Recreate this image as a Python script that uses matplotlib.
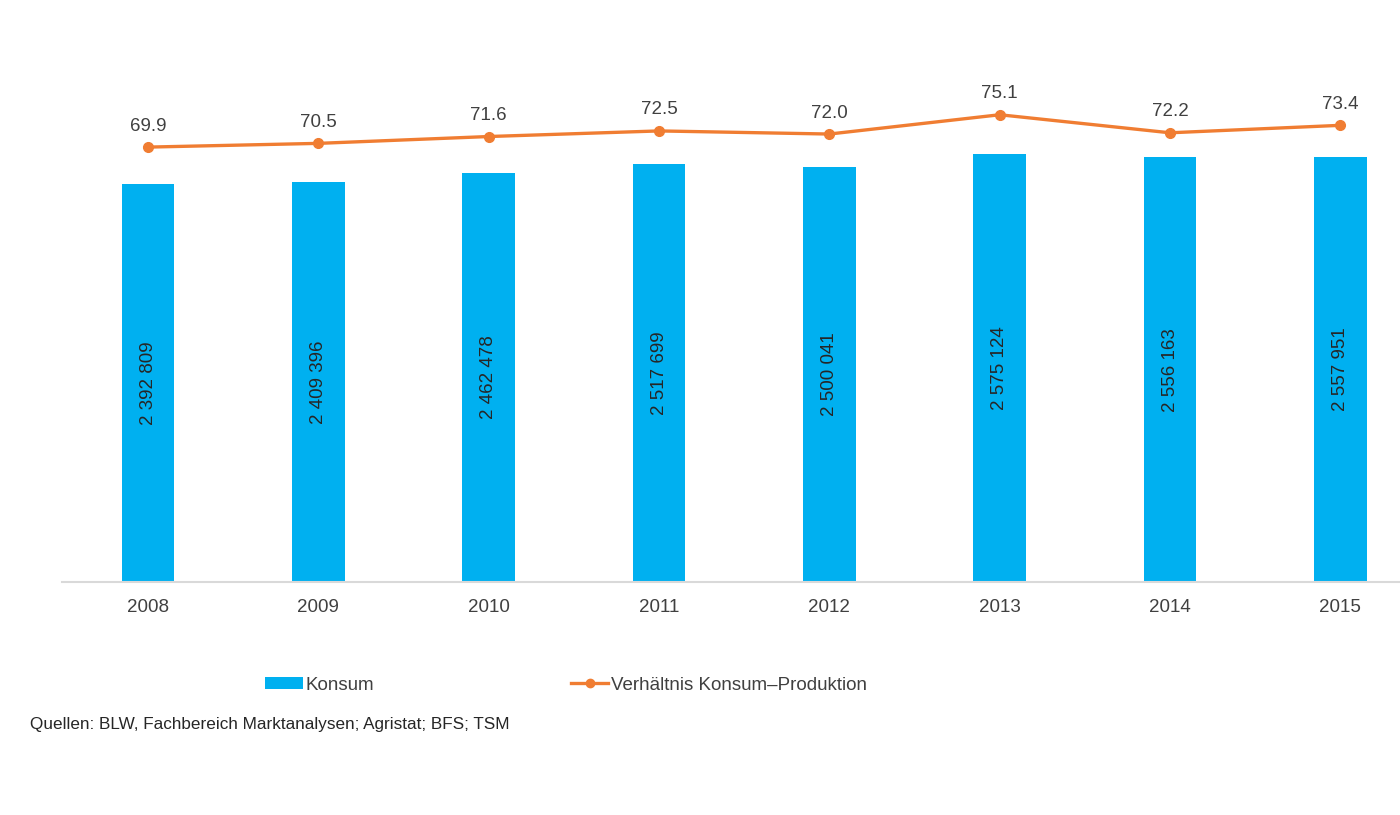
import numpy as np
import matplotlib.pyplot as plt
from matplotlib.patches import Patch
from matplotlib.lines import Line2D

plt.rcParams['font.family'] = ['Liberation Sans', 'DejaVu Sans']

years = ['2008', '2009', '2010', '2011', '2012', '2013', '2014', '2015']
konsum = [2392809, 2409396, 2462478, 2517699, 2500041, 2575124, 2556163, 2557951]
verhaeltnis = [69.9, 70.5, 71.6, 72.5, 72.0, 75.1, 72.2, 73.4]

blue = '#00B0F0'
orange = '#F07D32'
textc = '#404040'

fig = plt.figure(figsize=(14, 8.15), dpi=100)
ax = fig.add_axes([62 / 1400, 1 - 582 / 815, 1 - 62 / 1400, (582 - 60) / 815])
x = np.arange(len(years))

ax.bar(x, konsum, width=0.31, color=blue, zorder=2)
for xi, v in zip(x, konsum):
    lab = f'{v:,}'.replace(',', ' ')
    ax.text(xi, v / 2, lab, rotation=90, ha='center', va='center',
            fontsize=13.5, color='#262626', zorder=3)

ax.set_xlim(-0.505, 7.35)
ax.set_ylim(0, 3142000)
ax.set_xticks(x)
ax.set_xticklabels(years, fontsize=13.5, color=textc)
ax.tick_params(axis='x', length=0, pad=12)
ax.set_yticks([])
for s in ['top', 'right', 'left']:
    ax.spines[s].set_visible(False)
ax.spines['bottom'].set_color('#D9D9D9')
ax.spines['bottom'].set_linewidth(1.5)

# Verhältnis auf zweiter Achse
ax2 = ax.twinx()
ax2.plot(x, verhaeltnis, color=orange, lw=2.4, marker='o', markersize=7, zorder=4)
for xi, v in zip(x, verhaeltnis):
    ax2.annotate(f'{v:.1f}', (xi, v), xytext=(0, 9), textcoords='offset points',
                 ha='center', va='bottom', fontsize=13.5, color=textc)
ax2.set_ylim(0, 83.9)
ax2.set_yticks([])
for s in ['top', 'right', 'left', 'bottom']:
    ax2.spines[s].set_visible(False)

handles = [Patch(facecolor=blue, edgecolor='none'),
           Line2D([0], [0], color=orange, lw=2.4, marker='o', markersize=6)]
fig.legend(handles, ['Konsum', 'Verhältnis Konsum–Produktion'], loc='center left',
           bbox_to_anchor=(265 / 1400, 1 - 685 / 815), ncol=2, frameon=False,
           fontsize=13.5, handlelength=2.0, handleheight=0.55, handletextpad=0.15,
           columnspacing=10.5, borderpad=0, borderaxespad=0, labelcolor=textc)

fig.text(30 / 1400, 1 - 724 / 815, 'Quellen: BLW, Fachbereich Marktanalysen; Agristat; BFS; TSM',
         fontsize=12.3, color='#262626', ha='left', va='center')

fig.savefig('out.png', dpi=100)
